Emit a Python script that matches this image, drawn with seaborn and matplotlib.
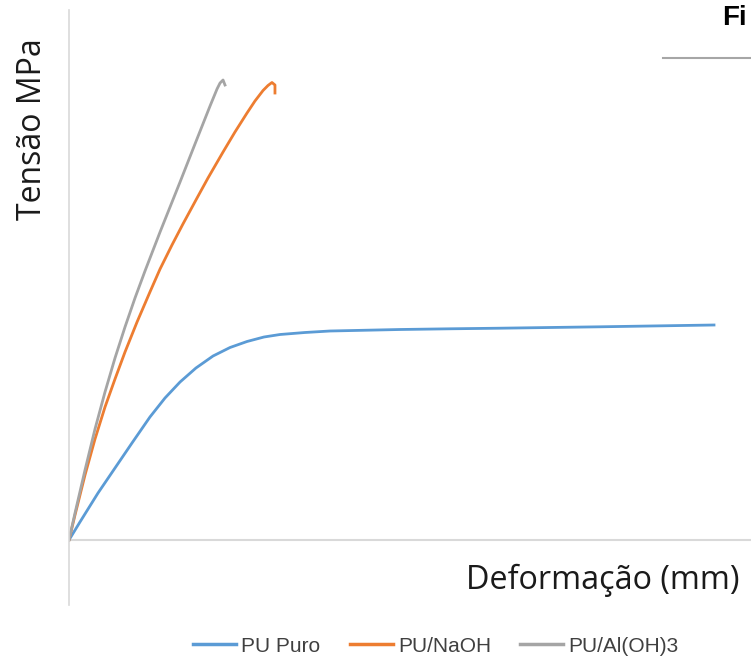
import matplotlib
matplotlib.use("Agg")
import matplotlib.pyplot as plt
import seaborn as sns
import pandas as pd
from matplotlib.lines import Line2D

# ---- data (arbitrary units, no tick labels shown) ----
puro_x = [0, 1.02, 2.70, 4.28, 5.86, 7.53, 8.93, 10.33, 11.81, 13.40, 14.98, 16.56, 18.14,
          19.63, 21.95, 24.28, 30.79, 35.44, 40.09, 44.74, 49.40, 54.05, 60.0]
puro_y = [0, 1.8, 4.7, 7.2, 9.7, 12.3, 14.2, 15.8, 17.2, 18.4, 19.25, 19.85, 20.3,
          20.55, 20.75, 20.9, 21.05, 21.12, 21.18, 21.25, 21.32, 21.4, 21.5]

naoh_x = [0, 0.56, 1.49, 2.42, 3.35, 4.28, 5.21, 6.33, 7.53, 8.47, 9.58, 10.60, 11.91,
          12.93, 14.33, 15.44, 16.56, 17.30, 18.05, 18.51, 18.88, 19.16, 19.16]
naoh_y = [0, 2.5, 6.5, 10.1, 13.3, 16.1, 18.8, 21.8, 24.8, 27.1, 29.5, 31.6, 34.2,
          36.2, 38.8, 40.8, 42.7, 43.9, 44.95, 45.45, 45.75, 45.5, 44.7]

aloh_x = [0, 0.56, 1.49, 2.42, 3.35, 4.28, 5.21, 6.14, 7.07, 8.47, 10.33, 11.72,
          13.12, 13.77, 14.05, 14.33, 14.51]
aloh_y = [0, 2.7, 7.0, 11.1, 14.8, 18.2, 21.3, 24.2, 26.9, 30.8, 35.8, 39.6,
          43.4, 45.1, 45.7, 46.0, 45.5]

series_names = ["PU Puro", "PU/NaOH", "PU/Al(OH)3"]
colors = ["#5B9BD5", "#ED7D31", "#A5A5A5"]

frames = []
for name, xs, ys in zip(series_names, [puro_x, naoh_x, aloh_x], [puro_y, naoh_y, aloh_y]):
    frames.append(pd.DataFrame({"x": xs, "y": ys, "serie": name}))
df = pd.concat(frames, ignore_index=True)

W, H = 751, 657
fig = plt.figure(figsize=(W / 100, H / 100), dpi=100)
ax = fig.add_axes([69 / W, (H - 605) / H, (W - 69) / W, (605 - 10) / H])

sns.lineplot(data=df, x="x", y="y", hue="serie", palette=colors, hue_order=series_names,
             sort=False, estimator=None, units="serie", linewidth=2.0, ax=ax, legend=False)

ax.set_xlim(0, (W - 69) / 10.75)
ax.set_ylim(-6.5, 53)
ax.set_xticks([])
ax.set_yticks([])
ax.set_xlabel("")
ax.set_ylabel("")
for s in ["top", "right", "bottom"]:
    ax.spines[s].set_visible(False)
ax.spines["left"].set_color("#D9D9D9")
ax.spines["left"].set_linewidth(1.2)
ax.axhline(0, color="#D9D9D9", lw=1.5, zorder=0)
ax.set_facecolor("white")

# axis titles
fig.text(740 / W, 1 - 580 / H, "Deformação (mm)", ha="right", va="center",
         fontsize=23.3, family="Open Sans", color="#1a1a1a")
fig.text(33 / W, 1 - 129 / H, "Tensão MPa", ha="center", va="center", rotation=90,
         fontsize=23, family="Open Sans", color="#1a1a1a")

# clipped title fragment + rule
fig.text(722 / W, 1 - 18 / H, "Fi", ha="left", va="center", fontsize=20,
         fontweight="bold", family="Liberation Sans", color="black")
fig.add_artist(Line2D([663 / W, 1.0], [1 - 58 / H, 1 - 58 / H], color="#A6A6A6", lw=1.5,
                      transform=fig.transFigure))

# legend
handles = [Line2D([], [], color=c, lw=2.5) for c in colors]
leg = fig.legend(handles, series_names, loc="center", bbox_to_anchor=(436 / W, 1 - 646 / H),
                 ncol=3, frameon=False, handlelength=2.07, handletextpad=0.25, columnspacing=1.4,
                 prop={"family": "Liberation Sans", "size": 15})
for t in leg.get_texts():
    t.set_color("#404040")

fig.savefig("out.png", dpi=100, facecolor="white")
